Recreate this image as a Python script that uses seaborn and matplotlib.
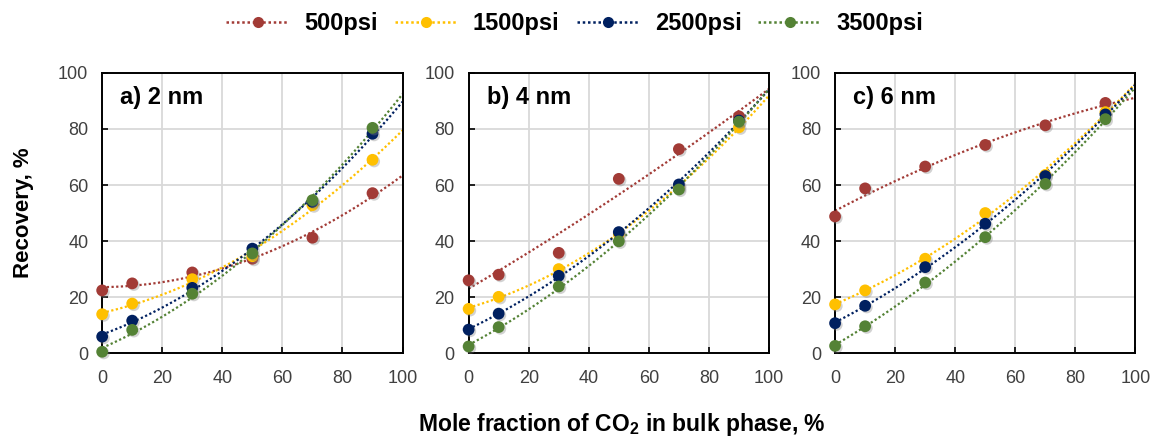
import numpy as np
import pandas as pd
import matplotlib
matplotlib.use("Agg")
import matplotlib.pyplot as plt
import matplotlib.patheffects as pe
from matplotlib.lines import Line2D
import seaborn as sns

sns.set_style("white")
plt.rcParams['font.family'] = ['Liberation Sans', 'DejaVu Sans']
plt.rcParams['mathtext.fontset'] = 'custom'
plt.rcParams['mathtext.rm'] = 'Liberation Sans:bold'
plt.rcParams['mathtext.bf'] = 'Liberation Sans:bold'
plt.rcParams['mathtext.default'] = 'bf'

x_frac = [0, 10, 30, 50, 70, 90]
series = ["500psi", "1500psi", "2500psi", "3500psi"]
colors = ["#A23B36", "#FFC000", "#002060", "#548235"]
panel_titles = ["a) 2 nm", "b) 4 nm", "c) 6 nm"]

# panel a) 2 nm
a_500 = [22.4, 24.9, 28.8, 33.7, 41.2, 57.1]
a_1500 = [13.9, 17.7, 26.4, 34.6, 52.8, 69.0]
a_2500 = [5.9, 11.6, 23.3, 37.3, 54.0, 78.3]
a_3500 = [0.5, 8.3, 21.2, 35.6, 54.6, 80.4]
# panel b) 4 nm
b_500 = [26.0, 28.0, 35.8, 62.2, 72.8, 84.5]
b_1500 = [15.8, 20.1, 30.0, 42.5, 59.3, 80.6]
b_2500 = [8.4, 14.1, 27.6, 43.2, 60.2, 83.0]
b_3500 = [2.4, 9.3, 23.8, 39.9, 58.4, 82.6]
# panel c) 6 nm
c_500 = [48.8, 58.8, 66.6, 74.3, 81.3, 89.3]
c_1500 = [17.4, 22.4, 33.7, 50.0, 63.6, 86.0]
c_2500 = [10.7, 16.9, 30.7, 46.2, 63.2, 85.2]
c_3500 = [2.6, 9.6, 25.2, 41.4, 60.4, 83.5]

panels = [
    [a_500, a_1500, a_2500, a_3500],
    [b_500, b_1500, b_2500, b_3500],
    [c_500, c_1500, c_2500, c_3500],
]

fig, axes = plt.subplots(1, 3, figsize=(11.61, 4.42), dpi=100)
fig.subplots_adjust(left=0.088, right=0.978, top=0.835, bottom=0.201, wspace=0.22)

shadow = [pe.SimplePatchShadow(offset=(1.2, -1.2), shadow_rgbFace="#808080", alpha=0.35),
          pe.Normal()]
dots = (0, (1, 1.1))

for ax, pdata, title in zip(axes, panels, panel_titles):
    ax.set_xlim(0, 100)
    ax.set_ylim(0, 100)
    for vals, col in zip(pdata, colors):
        df = pd.DataFrame({"x": x_frac, "y": vals})
        sns.regplot(data=df, x="x", y="y", ax=ax, order=2, ci=None, truncate=False,
                    scatter_kws=dict(s=72, color=col, edgecolor="none", alpha=1, zorder=3,
                                     clip_on=False, path_effects=shadow),
                    line_kws=dict(color=col, linestyle=dots, linewidth=1.6, zorder=2))
    ax.set_xlim(0, 100)
    ax.set_ylim(0, 100)
    ax.set_xticks(range(0, 101, 20))
    ax.set_yticks(range(0, 101, 20))
    ax.grid(True, color="#D9D9D9", linewidth=1.3)
    ax.set_axisbelow(True)
    for sp in ax.spines.values():
        sp.set_color("black")
        sp.set_linewidth(1.4)
    ax.tick_params(axis="both", labelsize=13, labelcolor="#404040", color="black",
                   direction="in", length=4, width=1.2, left=True, bottom=True)
    ax.tick_params(axis="x", pad=12)
    ax.tick_params(axis="y", pad=10)
    ax.set_xlabel("")
    ax.set_ylabel("")
    ax.text(0.06, 0.955, title, transform=ax.transAxes, fontsize=17, fontweight="bold",
            va="top", ha="left", color="black")

handles = [Line2D([0], [0], color=c, linestyle=dots, linewidth=1.8, marker="o",
                  markersize=8, markeredgecolor="none") for c in colors]
fig.legend(handles, series, loc="upper center", bbox_to_anchor=(0.495, 1.02), ncol=4,
           frameon=False, prop=dict(size=17, weight="bold"), handlelength=2.67,
           columnspacing=0.72, handletextpad=0.64, labelcolor="black")

fig.text(0.02, 0.518, "Recovery, %", rotation=90, ha="center", va="center",
         fontsize=16, fontweight="bold", color="black")
fig.text(0.536, 0.04, r"Mole fraction of CO$_{2}$ in bulk phase, %", ha="center",
         va="center", fontsize=16.5, fontweight="bold", color="black")

fig.savefig("out.png", dpi=100)
